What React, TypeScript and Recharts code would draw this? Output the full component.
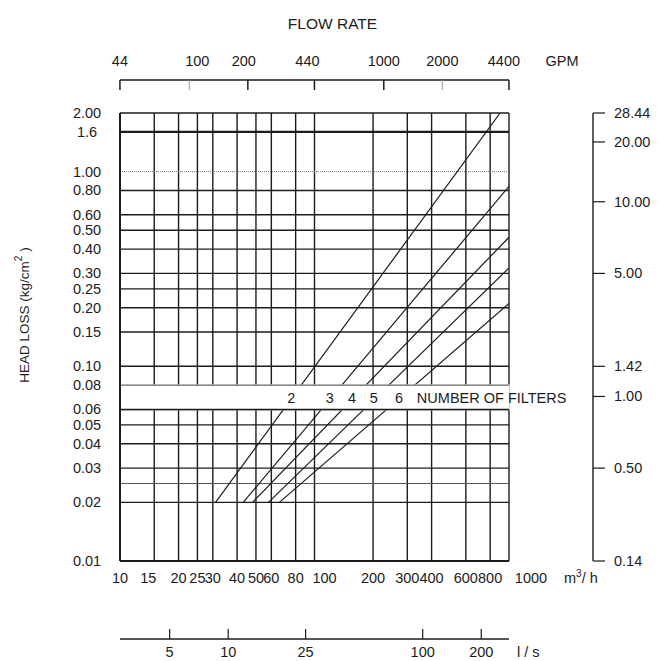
import {
  LineChart,
  Line,
  XAxis,
  YAxis,
  ReferenceLine,
  ReferenceArea,
  ReferenceDot,
} from 'recharts';

const INK = '#1c1c1c';
const FONT = '"Liberation Sans", Arial, Helvetica, sans-serif';
const FS = 14.5;

// flow, m3/h (main horizontal scale)
const flowTicks = [10, 15, 20, 25, 30, 40, 50, 60, 80, 100, 200, 300, 400, 600, 800, 1000];
const flowGrid = [15, 20, 25, 30, 40, 50, 60, 80, 100, 200, 300, 400, 600, 800, 1000];
// same flow in GPM (top) and l/s (bottom)
const gpmTicks = [44, 100, 200, 440, 1000, 2000, 4400];
const gpmMinor = [100, 2000];
const lpsTicks = [5, 10, 25, 100, 200];

// head loss, kg/cm2
const lossTicks = [2.0, 1.6, 1.0, 0.8, 0.6, 0.5, 0.4, 0.3, 0.25, 0.2, 0.15, 0.1, 0.08, 0.06, 0.05, 0.04, 0.03, 0.02, 0.01];
const lossLabels = ['2.00', '1.6', '1.00', '0.80', '0.60', '0.50', '0.40', '0.30', '0.25', '0.20', '0.15', '0.10', '0.08', '0.06', '0.05', '0.04', '0.03', '0.02', '0.01'];
const lossGrid = [2.0, 1.6, 1.0, 0.8, 0.6, 0.5, 0.4, 0.3, 0.25, 0.2, 0.15, 0.1, 0.08, 0.06, 0.05, 0.04, 0.03, 0.025, 0.02];

// psi scale on the right, placed at these head-loss values
const psiTickAt = [2.0, 1.42, 0.7, 0.3, 0.1, 0.07, 0.03, 0.01];
const psiLabels = ['28.44', '20.00', '10.00', '5.00', '1.42', '1.00', '0.50', '0.14'];

// one line per number of filters
const filterCount = [2, 3, 4, 5, 6];
const flowStart = [31, 43, 48, 58, 66];
const lossStart = [0.02, 0.02, 0.02, 0.02, 0.02];
const flowEnd = [900, 1000, 1000, 1000, 1000];
const lossEnd = [2.0, 0.84, 0.46, 0.32, 0.21];
const filterLabelFlow = [76, 120, 156, 202, 272];

const bandLow = 0.06;
const bandHigh = 0.08;
const bandMid = 0.069;

const filterLines = filterCount.map((n, i) => ({
  n,
  data: [
    { q: flowStart[i], h: lossStart[i] },
    { q: flowEnd[i], h: lossEnd[i] },
  ],
}));
// invisible carriers so the secondary flow scales get their ticks
const gpmCarrier = gpmTicks.map((g) => ({ g, h: 2 }));
const lpsCarrier = lpsTicks.map((l) => ({ l, h: 2 }));

const textProps = { fontSize: FS, fontFamily: FONT, fill: INK };
const flowLabelShift: Record<number, number> = { 15: -6, 100: 10, 1000: 22 };
const gpmLabelShift: Record<number, number> = { 100: 8, 200: -4, 440: -7, 4400: -5 };

function FlowTick({ x, y, payload }: any) {
  return (
    <text x={x + (flowLabelShift[payload.value] ?? 0)} y={y + 22} textAnchor="middle" {...textProps}>
      {payload.value}
    </text>
  );
}

function LpsTick({ x, y, payload }: any) {
  return (
    <g>
      <line x1={x} y1={y - 10} x2={x} y2={y} stroke={INK} strokeWidth={1.2} />
      <text x={x} y={y + 18} textAnchor="middle" {...textProps}>
        {payload.value}
      </text>
    </g>
  );
}

function GpmTick({ x, y, payload }: any) {
  const minor = gpmMinor.includes(payload.value);
  return (
    <g>
      <line x1={x} y1={y} x2={x} y2={y + 10} stroke={minor ? '#999' : INK} strokeWidth={minor ? 1 : 1.5} />
      <text x={x + (gpmLabelShift[payload.value] ?? 0)} y={y - 14} textAnchor="middle" {...textProps}>
        {payload.value}
      </text>
    </g>
  );
}

function LossTick({ x, y, payload }: any) {
  const i = lossTicks.indexOf(payload.value);
  return (
    <text x={x - 33} y={y + 5} textAnchor="middle" {...textProps}>
      {lossLabels[i]}
    </text>
  );
}

function PsiTick({ x, y, payload }: any) {
  const i = psiTickAt.indexOf(payload.value);
  return (
    <g>
      <line x1={x} y1={y} x2={x + 12} y2={y} stroke={INK} strokeWidth={1.2} />
      <text x={x + 21} y={y + 5} textAnchor="start" {...textProps}>
        {psiLabels[i]}
      </text>
    </g>
  );
}

function GpmTitle({ viewBox }: any) {
  const { x, width } = viewBox;
  return (
    <g>
      <text x={x + width / 2 + 18} y={29} textAnchor="middle" {...textProps} fontSize={15.5}>
        FLOW RATE
      </text>
      <text x={x + width + 53} y={66} textAnchor="middle" {...textProps}>
        GPM
      </text>
    </g>
  );
}

function FlowUnit({ viewBox }: any) {
  const { x, y, width } = viewBox;
  return (
    <text x={x + width + 55} y={y + 22} {...textProps}>
      m<tspan dy={-6} fontSize={10}>3</tspan>
      <tspan dy={6}>/ h</tspan>
    </text>
  );
}

function LpsUnit({ viewBox }: any) {
  const { x, y, width } = viewBox;
  return (
    <text x={x + width + 8} y={y + 18} {...textProps}>
      l / s
    </text>
  );
}

function LossTitle({ viewBox }: any) {
  const { x, y, height } = viewBox;
  const cx = x + 29;
  const cy = y + height / 2 - 22;
  return (
    <text x={cx} y={cy} transform={`rotate(-90 ${cx} ${cy})`} textAnchor="middle" {...textProps} fontSize={13.5}>
      HEAD LOSS (kg/cm<tspan dy={-7} fontSize={10}>2</tspan>
      <tspan dy={7}> )</tspan>
    </text>
  );
}

const gridStroke = (v: number) => {
  if (v === 1.6) return { stroke: INK, strokeWidth: 2.4 };
  if (v === 1.0) return { stroke: '#777', strokeWidth: 1, strokeDasharray: '1 1' };
  if (v === 0.08 || v === 0.025) return { stroke: '#555', strokeWidth: 1 };
  return { stroke: INK, strokeWidth: 1.4 };
};

export default function App() {
  return (
    <div style={{ position: 'absolute', left: 0, top: 0, width: 660, height: 661, background: '#fff' }}>
      <LineChart width={660} height={661} margin={{ top: 0, right: 0, bottom: 0, left: 0 }}>
        <XAxis
          xAxisId="a_m3"
          type="number"
          dataKey="q"
          scale="log"
          domain={[10, 1000]}
          allowDataOverflow
          ticks={flowTicks}
          interval={0}
          height={78}
          tickSize={0}
          tickMargin={0}
          tick={FlowTick}
          tickLine={false}
          axisLine={{ stroke: INK, strokeWidth: 2 }}
          label={<FlowUnit />}
        />
        <XAxis
          xAxisId="b_lps"
          type="number"
          dataKey="l"
          scale="log"
          domain={[10 / 3.6, 1000 / 3.6]}
          allowDataOverflow
          ticks={lpsTicks}
          interval={0}
          height={22}
          tickSize={0}
          tickMargin={0}
          tick={LpsTick}
          tickLine={false}
          axisLine={{ stroke: INK, strokeWidth: 1.4 }}
          label={<LpsUnit />}
        />
        <XAxis
          xAxisId="a_gap"
          orientation="top"
          type="number"
          domain={[0, 1]}
          allowDataOverflow
          height={33}
          tick={false}
          tickLine={false}
          axisLine={false}
        />
        <XAxis
          xAxisId="b_gpm"
          orientation="top"
          type="number"
          dataKey="g"
          scale="log"
          domain={[44.03, 4403]}
          allowDataOverflow
          ticks={gpmTicks}
          interval={0}
          height={80}
          tickSize={0}
          tickMargin={0}
          tick={GpmTick}
          tickLine={false}
          axisLine={{ stroke: INK, strokeWidth: 1.6 }}
          label={<GpmTitle />}
        />
        <YAxis
          yAxisId="a_kg"
          type="number"
          dataKey="h"
          scale="log"
          domain={[0.01, 2]}
          allowDataOverflow
          ticks={lossTicks}
          interval={0}
          width={120}
          tickSize={0}
          tickMargin={0}
          tick={LossTick}
          tickLine={false}
          axisLine={{ stroke: INK, strokeWidth: 2 }}
          label={<LossTitle />}
        />
        <YAxis
          yAxisId="b_gap"
          orientation="right"
          type="number"
          domain={[0, 1]}
          allowDataOverflow
          width={84}
          tick={false}
          tickLine={false}
          axisLine={false}
        />
        <YAxis
          yAxisId="c_psi"
          orientation="right"
          type="number"
          scale="log"
          domain={[0.01, 2]}
          allowDataOverflow
          ticks={psiTickAt}
          interval={0}
          width={67}
          tickSize={0}
          tickMargin={0}
          tick={PsiTick}
          tickLine={false}
          axisLine={{ stroke: INK, strokeWidth: 1.4 }}
        />

        <Line
          xAxisId="b_gpm"
          yAxisId="a_kg"
          data={gpmCarrier}
          dataKey="h"
          stroke="none"
          dot={false}
          activeDot={false}
          isAnimationActive={false}
        />
        <Line
          xAxisId="b_lps"
          yAxisId="a_kg"
          data={lpsCarrier}
          dataKey="h"
          stroke="none"
          dot={false}
          activeDot={false}
          isAnimationActive={false}
        />

        {flowGrid.map((v) => (
          <ReferenceLine key={`v${v}`} xAxisId="a_m3" yAxisId="a_kg" x={v} stroke={INK} strokeWidth={1.4} zIndex={-100} />
        ))}
        {lossGrid.map((v) => (
          <ReferenceLine key={`h${v}`} xAxisId="a_m3" yAxisId="a_kg" y={v} {...gridStroke(v)} zIndex={-100} />
        ))}

        {filterLines.map((f) => (
          <Line
            key={f.n}
            xAxisId="a_m3"
            yAxisId="a_kg"
            data={f.data}
            dataKey="h"
            type="linear"
            stroke={INK}
            strokeWidth={1.2}
            dot={false}
            activeDot={false}
            isAnimationActive={false}
          />
        ))}

        <ReferenceArea
          xAxisId="a_m3"
          yAxisId="a_kg"
          x1={10}
          x2={1000}
          y1={bandLow}
          y2={bandHigh}
          fill="#fff"
          fillOpacity={1}
          stroke="#fff"
          strokeWidth={1.4}
          zIndex={450}
        />
        <ReferenceLine xAxisId="a_m3" yAxisId="a_kg" x={10} stroke={INK} strokeWidth={2} zIndex={460} />
        <ReferenceLine xAxisId="a_m3" yAxisId="a_kg" y={bandHigh} {...gridStroke(bandHigh)} zIndex={460} />
        <ReferenceLine xAxisId="a_m3" yAxisId="a_kg" y={bandLow} {...gridStroke(bandLow)} zIndex={460} />

        {filterCount.map((n, i) => (
          <ReferenceDot
            key={`lbl${n}`}
            xAxisId="a_m3"
            yAxisId="a_kg"
            x={filterLabelFlow[i]}
            y={bandMid}
            r={0}
            stroke="none"
            fill="none"
            zIndex={470}
            label={{ value: String(n), position: 'center', ...textProps }}
          />
        ))}
        <ReferenceDot
          xAxisId="a_m3"
          yAxisId="a_kg"
          x={336}
          y={bandMid}
          r={0}
          stroke="none"
          fill="none"
          zIndex={470}
          label={{ value: 'NUMBER OF FILTERS', position: 'right', offset: 0, ...textProps }}
        />
      </LineChart>
    </div>
  );
}
